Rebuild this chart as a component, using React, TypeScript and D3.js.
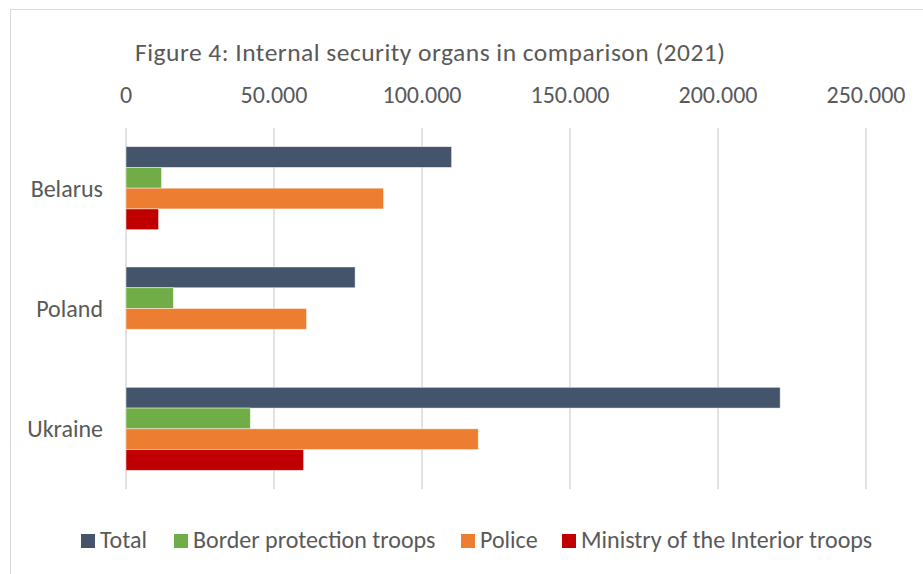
import React from "react";
import * as d3 from "d3";

const categories = ["Belarus", "Poland", "Ukraine"];
const seriesNames = ["Total", "Border protection troops", "Police", "Ministry of the Interior troops"];
const totalValues = [110000, 77400, 221000];
const borderValues = [12000, 16000, 42000];
const policeValues = [87000, 61000, 119000];
const ministryValues = [11000, 0, 60000];
const tickValues = [0, 50000, 100000, 150000, 200000, 250000];
const colors = ["#44546A", "#70AD47", "#ED7D31", "#C00000"];
const title = "Figure 4: Internal security organs in comparison (2021)";

const W = 923;
const H = 574;
const FONT = "Carlito, Lato, 'Open Sans', sans-serif";
const TEXT = "#595959";

export default function App() {
  const series = [totalValues, borderValues, policeValues, ministryValues];
  const x = d3.scaleLinear().domain([0, 250000]).range([126, 866]);
  const y = d3.scaleBand<string>().domain(categories).range([128, 489]).paddingInner(0.31).paddingOuter(0.155);
  const inner = d3.scaleBand<number>().domain(d3.range(series.length)).range([0, y.bandwidth()]);
  const fmt = d3.formatLocale({ thousands: ".", decimal: ",", grouping: [3], currency: ["", ""] }).format(",");
  const legendSquareX = [81, 174, 461, 562];

  return (
    <svg width={W} height={H} style={{ position: "absolute", left: 0, top: 0, background: "#fff" }}>
      <rect x={10.5} y={9.5} width={W + 10} height={H + 10} fill="#fff" stroke="#d9d9d9" strokeWidth={1} />
      <text x={135} y={61} fontFamily={FONT} fontSize={25.5} fill={TEXT} textLength={590} lengthAdjust="spacing">{title}</text>
      {tickValues.map((t) => (
        <g key={t}>
          <line x1={x(t)} x2={x(t)} y1={128} y2={489} stroke="#d9d9d9" strokeWidth={1.5} />
          <text x={x(t)} y={103} textAnchor="middle" fontFamily={FONT} fontSize={24} fill={TEXT}>{fmt(t)}</text>
        </g>
      ))}
      {categories.map((c, ci) => (
        <g key={c}>
          {series.map((vals, si) =>
            vals[ci] > 0 ? (
              <rect
                key={si}
                x={x(0)}
                y={(y(c) as number) + (inner(si) as number)}
                width={x(vals[ci]) - x(0)}
                height={inner.bandwidth()}
                fill={colors[si]}
                stroke="#ffffff"
                strokeOpacity={0.6}
                strokeWidth={0.75}
              />
            ) : null
          )}
          <text x={103} y={(y(c) as number) + y.bandwidth() / 2} dy="0.35em" textAnchor="end" fontFamily={FONT} fontSize={24} fill={TEXT}>{c}</text>
        </g>
      ))}
      {seriesNames.map((s, i) => (
        <g key={s}>
          <rect x={legendSquareX[i]} y={534} width={14} height={14} fill={colors[i]} />
          <text x={legendSquareX[i] + 19} y={548} fontFamily={FONT} fontSize={24} fill={TEXT}>{s}</text>
        </g>
      ))}
    </svg>
  );
}
